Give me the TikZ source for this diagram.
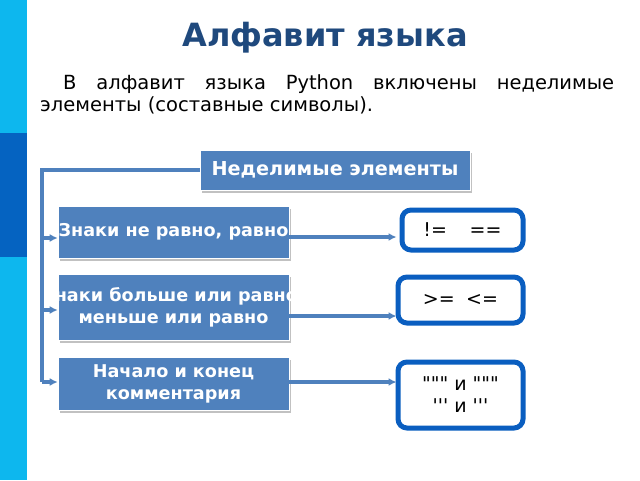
\documentclass[tikz,border=0pt]{standalone}
\usepackage{fontspec}
\setmainfont{DejaVu Sans}
\newfontfamily\qfont{DejaVu Sans}
\usetikzlibrary{arrows.meta,shadows}
\definecolor{stripelight}{HTML}{0DB7EE}
\definecolor{stripedark}{HTML}{0563C1}
\definecolor{titleblue}{HTML}{1F497D}
\definecolor{boxblue}{HTML}{4F81BD}
\definecolor{rimblue}{HTML}{0A5EC0}
\begin{document}
\begin{tikzpicture}[x=1pt,y=-1pt,
  bluebox/.style={rectangle, fill=boxblue, draw=white, line width=0.6pt, text=white, font=\bfseries\fontsize{17.6}{22}\selectfont, align=center, inner sep=0pt,
    drop shadow={shadow xshift=1.5pt, shadow yshift=-2.5pt, fill=black!30, opacity=0.8}},
  valbox/.style={rectangle, rounded corners=9pt, draw=rimblue, line width=5pt, fill=white, font=\qfont\fontsize{19}{22}\selectfont, align=center, inner sep=0pt},
  conn/.style={draw=boxblue, line width=3.2pt},
  arr/.style={conn, -{Latex[length=8pt,width=8pt]}}]
\useasboundingbox (0,0) rectangle (640,480);
\fill[white] (0,0) rectangle (640,480);
\fill[stripelight] (0,0) rectangle (27,133);
\fill[stripedark] (0,133) rectangle (27,257);
\fill[stripelight] (0,257) rectangle (27,480);

\node[font=\bfseries\fontsize{32}{36}\selectfont, text=titleblue] (title) at (325,38) {Алфавит языка};
\node[anchor=north west, inner sep=0pt, text width=574pt, align=justify, font=\fontsize{19.5}{22.5}\selectfont] (para) at (40,74)
  {\hspace*{23pt}В алфавит языка Python включены неделимые элементы (составные символы).};

\node[bluebox, minimum width=270pt, minimum height=40pt, font=\bfseries\fontsize{19.2}{22}\selectfont] (top) at (335,170) {Неделимые элементы};
\node[bluebox, minimum width=231pt, minimum height=52pt] (b1) at (173.5,232) {\makebox[200pt][c]{Знаки не равно, равно}};
\node[bluebox, minimum width=231pt, minimum height=66pt] (b2) at (173.5,307) {\makebox[200pt][c]{Знаки больше или равно,}\\меньше или равно};
\node[bluebox, minimum width=231pt, minimum height=53pt] (b3) at (173.5,384) {Начало и конец\\комментария};

\node[valbox, minimum width=121pt, minimum height=40pt] (rA) at (462.5,230) {!=\hspace{1.2em}==};
\node[valbox, minimum width=125pt, minimum height=46pt] (rB) at (460.5,300) {>=\hspace{0.6em}<=};
\node[valbox, minimum width=125pt, minimum height=66pt] (rC) at (460.5,395) {""" и """\\''' и '''};

\coordinate (j1) at (42,238);
\coordinate (j2) at (42,310);
\coordinate (j3) at (42,382);
\draw[conn] (top.west) -| (j3);
\draw[arr] (j1) -- (b1.west |- j1);
\draw[arr] (j2) -- (b2.west |- j2);
\draw[arr] (j3) -- (b3.west |- j3);

\coordinate (k1) at (300,237);
\coordinate (k2) at (300,316);
\coordinate (k3) at (300,382);
\draw[arr] (b1.east |- k1) -- ([xshift=-3pt]rA.west |- k1);
\draw[arr] (b2.east |- k2) -- ([xshift=1pt]rB.west |- k2);
\draw[arr] (b3.east |- k3) -- ([xshift=1pt]rC.west |- k3);
\end{tikzpicture}
\end{document}
